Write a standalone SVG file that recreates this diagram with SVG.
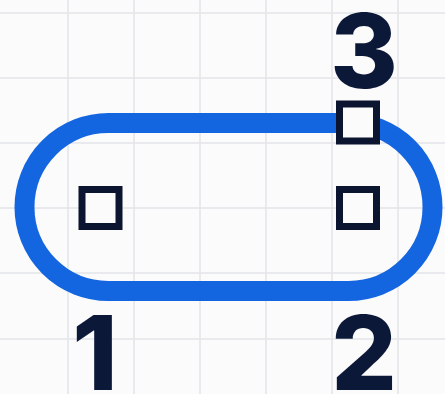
<svg xmlns="http://www.w3.org/2000/svg" width="445" height="394" viewBox="0 0 445 394">
<style>
.grid{stroke:#e3e5e9;stroke-width:1.5}
.sq{fill:#fbfbfb;stroke:#0c1530;stroke-width:7}
.num{font-family:Inter,"Open Sans","Liberation Sans",sans-serif;font-weight:800;font-size:103px;fill:#0c1838;text-anchor:middle}
</style>
<rect width="445" height="394" fill="#fbfbfb"/>
<g id="grid">
<path class="grid" d="M68 0V394M134 0V394M200 0V394M266 0V394M332 0V394M398 0V394M0 13H445M0 78H445M0 143H445M0 208H445M0 273H445M0 339H445"/>
</g>
<g id="stadium">
<rect x="24.5" y="123" width="408" height="168" rx="84" ry="84" fill="none" stroke="#1466e0" stroke-width="20"/>
</g>
<g id="connectors"></g>
<g id="node1">
<rect class="sq" x="82" y="189.5" width="37" height="37"/>
<text class="num" x="95" y="390">1</text>
</g>
<g id="node2">
<rect class="sq" x="339.5" y="189.5" width="37" height="37"/>
<text class="num" x="364" y="390">2</text>
</g>
<g id="node3">
<rect class="sq" x="339.5" y="104" width="37" height="37"/>
<text class="num" x="364" y="88">3</text>
</g>
</svg>
